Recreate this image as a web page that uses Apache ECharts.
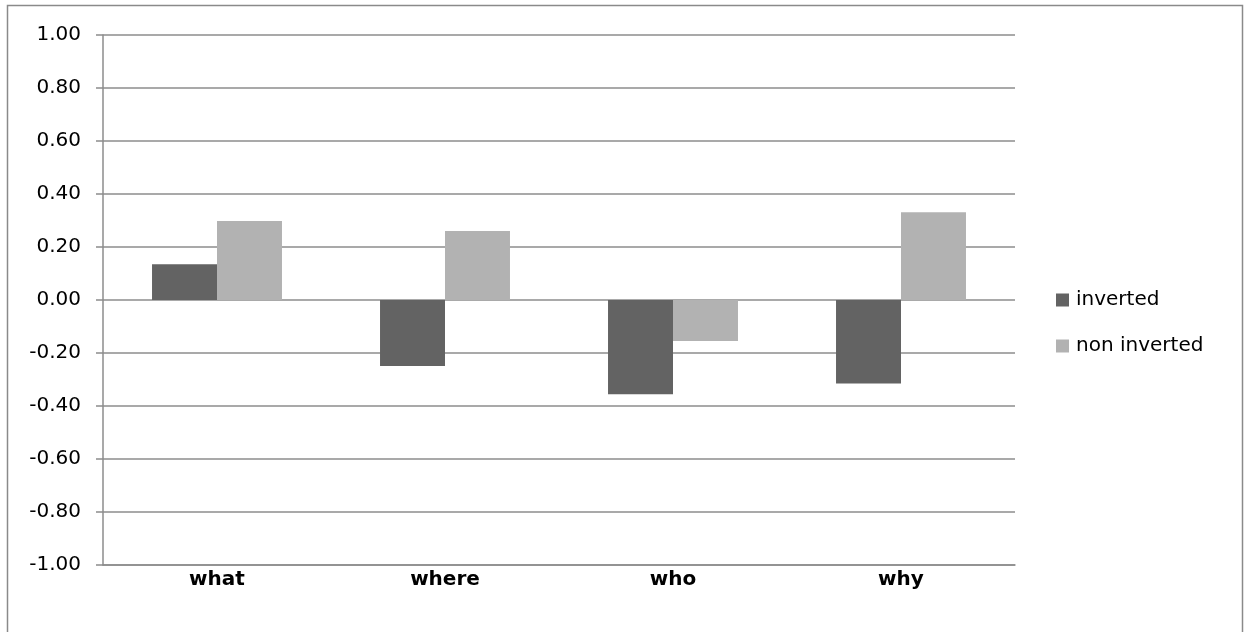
<!DOCTYPE html>
<html><head><meta charset="utf-8">
<script src="https://cdn.jsdelivr.net/npm/echarts@6/dist/echarts.min.js"></script>
<style>html,body{margin:0;padding:0;background:#fff}#c{width:1244px;height:632px}</style>
</head><body><div id="c"></div>
<script>
const categories = ['what', 'where', 'who', 'why'];
const inverted = [0.135, -0.249, -0.356, -0.315];
const nonInverted = [0.298, 0.26, -0.155, 0.331];
const seriesNames = ['inverted', 'non inverted'];

const chart = echarts.init(document.getElementById('c'));
const font = 'DejaVu Sans, Verdana, sans-serif';
chart.setOption({
  animation: false,
  backgroundColor: '#fff',
  textStyle: { fontFamily: font },
  graphic: [{
    type: 'rect', shape: { x: 7.5, y: 5.5, width: 1235, height: 640 },
    style: { fill: 'none', stroke: '#8a8a8a', lineWidth: 1.5 }, silent: true
  }],
  grid: { left: 103, right: 229, top: 35, bottom: 67, containLabel: false },
  legend: {
    orient: 'vertical', left: 1051, top: 285, itemGap: 26,
    itemWidth: 13, itemHeight: 13, icon: 'rect',
    textStyle: { fontSize: 20, color: '#000', fontFamily: font, padding: [0, 0, 0, 2] },
    data: seriesNames
  },
  xAxis: {
    type: 'category', data: categories, position: 'bottom',
    axisLine: { onZero: false, lineStyle: { color: '#8c8c8c', width: 1.5 } },
    axisTick: { show: false },
    axisLabel: { fontSize: 20, fontWeight: 'bold', color: '#000', margin: 5, fontFamily: font },
    splitLine: { show: false }
  },
  yAxis: {
    type: 'value', min: -1, max: 1, interval: 0.2,
    axisLine: { show: true, lineStyle: { color: '#8c8c8c', width: 1.5 } },
    axisTick: { show: true, inside: false, length: 7, lineStyle: { color: '#8c8c8c', width: 1.5 } },
    axisLabel: { fontSize: 20, color: '#000', margin: 22, fontFamily: font,
      formatter: v => v.toFixed(2) },
    splitLine: { lineStyle: { color: '#8c8c8c', width: 1.5 } }
  },
  series: [
    { name: seriesNames[0], type: 'bar', data: inverted, barGap: '0%', barCategoryGap: '43%',
      itemStyle: { color: '#636363' } },
    { name: seriesNames[1], type: 'bar', data: nonInverted, barGap: '0%', barCategoryGap: '43%',
      itemStyle: { color: '#b2b2b2' } }
  ]
});
</script></body></html>
